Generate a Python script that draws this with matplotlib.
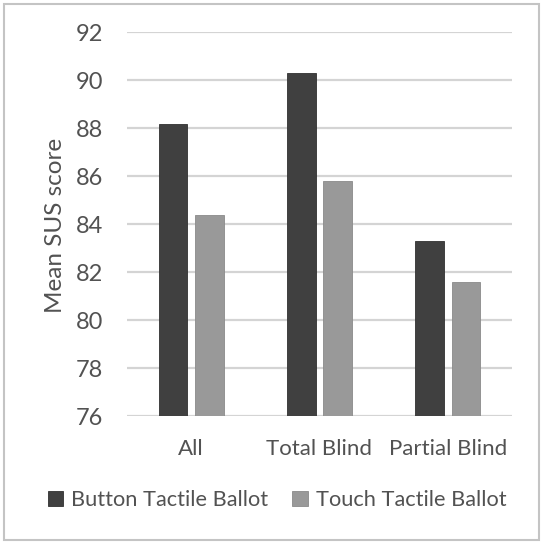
import matplotlib
matplotlib.use("Agg")
import matplotlib.pyplot as plt
import numpy as np
from matplotlib.patches import Rectangle

plt.rcParams['font.family'] = ['Lato', 'DejaVu Sans']

categories = ["All", "Total Blind", "Partial Blind"]
series_names = ["Button Tactile Ballot", "Touch Tactile Ballot"]
button_scores = [88.2, 90.3, 83.3]
touch_scores = [84.4, 85.8, 81.6]
y_ticks = [76, 78, 80, 82, 84, 86, 88, 90, 92]

text_color = "#525252"
dark = "#404040"
light = "#999999"
grid_color = "#d4d4d4"

fig = plt.figure(figsize=(5.45, 5.46), dpi=100)
W, H = 545, 546
ax = fig.add_axes([127 / W, (H - 416.4) / H, (512 - 127) / W, (416.4 - 32.3) / H])

x = np.arange(len(categories))
bw = 0.222
off = 0.142
ax.bar(x - off, button_scores, bw, bottom=0, color=dark, edgecolor="#303030",
       linewidth=0.6, label=series_names[0], zorder=3)
ax.bar(x + off, touch_scores, bw, bottom=0, color=light, edgecolor="#8a8a8a",
       linewidth=0.6, label=series_names[1], zorder=3)

ax.set_ylim(76, 92)
ax.set_xlim(-0.5, 2.5)
ax.set_yticks(y_ticks)
ax.set_xticks(x)
ax.set_xticklabels(categories)
ax.grid(axis="y", color=grid_color, linewidth=1.6, zorder=0)
ax.set_axisbelow(True)
for s in ax.spines.values():
    s.set_visible(False)
ax.tick_params(axis="both", length=0, colors=text_color)
ax.tick_params(axis="y", pad=17, labelsize=17)
ax.tick_params(axis="x", pad=16, labelsize=16)

fig.text(56 / W, (H - 225) / H, "Mean SUS score", rotation=90, fontsize=17.5,
         color=text_color, ha="center", va="center")

handles, labels = ax.get_legend_handles_labels()
fig.legend(handles, labels, loc="center", bbox_to_anchor=(277 / W, (H - 500) / H),
           ncol=2, frameon=False, fontsize=15.7, handlelength=0.72, handleheight=0.72,
           handletextpad=0.35, columnspacing=1.1, labelcolor=text_color)

fig.patches.append(Rectangle((4 / W, (H - 540) / H), 535 / W, 536.5 / H,
                             transform=fig.transFigure, fill=False,
                             edgecolor="#c4c4c4", linewidth=1.5))

fig.savefig("out.png", dpi=100, facecolor="white")
